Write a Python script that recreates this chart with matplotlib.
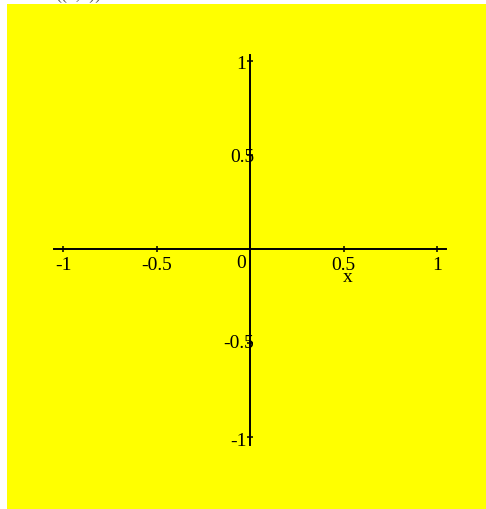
import matplotlib
matplotlib.use('Agg')
import matplotlib.pyplot as plt
from matplotlib.patches import Rectangle

# Valeurs des axes
x_ticks = [-1, -0.5, 0.5, 1]
x_labels = ['-1', '-0.5', '0.5', '1']
y_ticks = [1, 0.5, -0.5, -1]
y_labels = ['1', '0.5', '-0.5', '-1']
axis_extent = [-1.05, 1.03]
title_text = '((0,0))'

plt.rcParams['font.family'] = ['Liberation Serif', 'DejaVu Serif']

W, H, DPI = 486, 510, 100
fig = plt.figure(figsize=(W / DPI, H / DPI), dpi=DPI)
fig.patch.set_facecolor('white')

# Fond jaune (derrière les axes)
fig.patches.append(Rectangle((7 / W, 0), 1, 1 - 5 / H, transform=fig.transFigure,
                             facecolor='#ffff00', edgecolor='none', zorder=-1))
fig.text(55 / W, 1 - 3 / H, title_text, fontsize=13, color='#555555',
         ha='left', va='bottom')

# Axes: origine à (250, 250) px, environ 187 px par unité
ax = fig.add_axes([0, 0, 1, 1])
ax.set_xlim(-250 / 187, (W - 250) / 187)
ax.set_ylim(-(H - 250) / 188, 250 / 188)
ax.axis('off')
ax.patch.set_alpha(0)

ax.plot([axis_extent[0], 1.05], [0, 0], color='black', lw=1.4)
ax.plot([0, 0], [-1.04, axis_extent[1]], color='black', lw=1.4)

ax.plot(x_ticks, [0] * len(x_ticks), ls='none', marker='|', ms=5, mew=1.1, color='black')
ax.plot([0] * len(y_ticks), y_ticks, ls='none', marker='_', ms=5, mew=1.1, color='black')

fs = 14
for t, lab in zip(x_ticks, x_labels):
    ax.annotate(lab, (t, 0), xytext=(0, -16), textcoords='offset pixels',
                ha='center', va='center', fontsize=fs)
ax.annotate('0', (0, 0), xytext=(-9, -13), textcoords='offset pixels',
            ha='center', va='center', fontsize=fs)
ax.annotate('x', (0.5, 0), xytext=(4, -28), textcoords='offset pixels',
            ha='center', va='center', fontsize=fs)

y_off = {'1': (-4, -2), '0.5': (4, -2), '-0.5': (4, 0), '-1': (-3, -3)}
for t, lab in zip(y_ticks, y_labels):
    dx, dy = y_off[lab]
    ax.annotate(lab, (0, t), xytext=(dx, dy), textcoords='offset pixels',
                ha='right', va='center', fontsize=fs)

fig.savefig('out.png', dpi=DPI)
